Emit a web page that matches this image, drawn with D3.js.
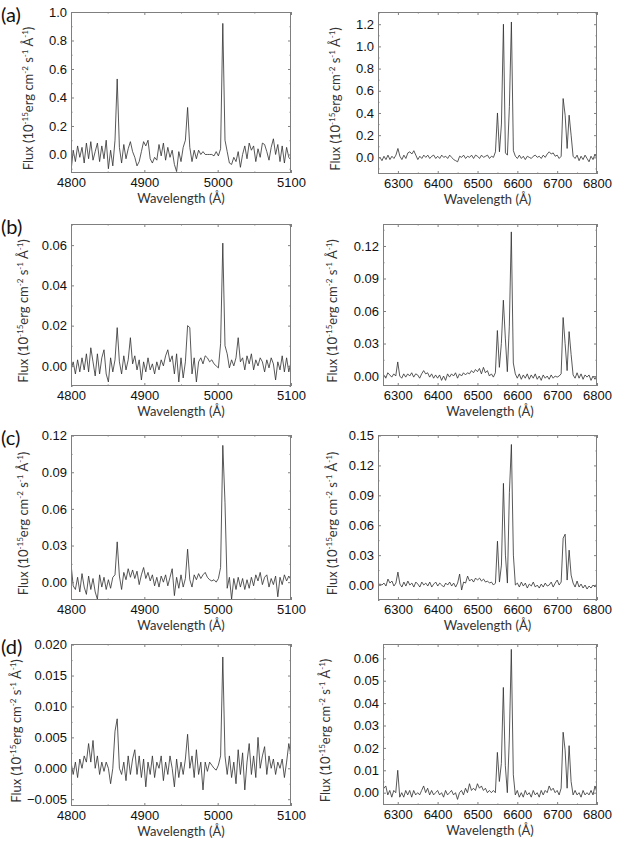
<!DOCTYPE html>
<html lang="en">
<head>
  <meta charset="UTF-8">
  <title>Spectra</title>
  <style>
    body { margin: 0; background: #fff; }
  </style>
</head>
<body>
  <svg id="svg" width="620" height="845"></svg>
  <script src="https://d3js.org/d3.v7.min.js"></script>
  <script>
    // wavelength grids (Angstrom)
    const blueStart = 4800, blueStep = 3
    const redStart = 6250, redStep = 5

    // tick values
    const xTicksBlue = [4800, 4900, 5000, 5100]
    const xTicksRed = [6300, 6400, 6500, 6600, 6700, 6800]
    const yTicksA1 = [0, 0.2, 0.4, 0.6, 0.8, 1.0]
    const yTicksA2 = [0, 0.2, 0.4, 0.6, 0.8, 1.0, 1.2]
    const yTicksB1 = [0, 0.02, 0.04, 0.06]
    const yTicksB2 = [0, 0.03, 0.06, 0.09, 0.12]
    const yTicksC1 = [0, 0.03, 0.06, 0.09, 0.12]
    const yTicksC2 = [0, 0.03, 0.06, 0.09, 0.12, 0.15]
    const yTicksD1 = [-0.005, 0, 0.005, 0.01, 0.015, 0.02]
    const yTicksD2 = [0, 0.01, 0.02, 0.03, 0.04, 0.05, 0.06]

    // flux, 10^-15 erg cm^-2 s^-1 A^-1
    const fluxA1 = [
      -0.12, 0.03, -0.05, 0.06, -0.02, 0.05, -0.06, 0.08, -0.03, 0.09,   // 4800
      -0.04, 0.02, 0.08, -0.05, 0.06, -0.03, 0.10, -0.10, 0.03, -0.08,   // 4830
      0.10, 0.53, 0.05, -0.06, 0.07, -0.03, 0.04, 0.09, 0.02, -0.02,     // 4860
      -0.08, -0.05, 0.02, 0.09, 0.06, 0.10, -0.03, -0.06, -0.02, -0.04,  // 4890
      0.07, -0.01, 0.08, -0.04, 0.05, -0.02, 0.03, -0.07, -0.12, 0.02,   // 4920
      -0.05, 0.05, 0.10, 0.33, 0.05, -0.05, 0.03, -0.03, 0.03, 0.00,     // 4950
      0.02, 0.00, 0.00, 0.00, 0.00, -0.01, 0.02, -0.01, 0.04, 0.92,      // 4980
      0.10, 0.02, -0.06, -0.07, -0.02, -0.05, 0.02, -0.09, 0.00, 0.06,   // 5010
      -0.03, 0.08, 0.03, 0.06, -0.05, 0.04, -0.02, 0.08, 0.07, 0.02,     // 5040
      -0.04, 0.05, 0.11, 0.00, 0.07, -0.05, 0.06, -0.06, 0.05, -0.02,    // 5070
      -0.04
    ]
    const fluxA2 = [
      -0.01, 0.00, -0.03, 0.01, -0.02, 0.02, -0.02, 0.01, -0.01, 0.02,   // 6250
      0.08, 0.01, -0.02, 0.02, -0.01, 0.04, 0.05, 0.03, 0.06, 0.02,      // 6300
      -0.02, 0.01, -0.01, 0.02, 0.00, 0.02, -0.01, 0.01, 0.02, -0.01,    // 6350
      0.01, -0.01, 0.02, 0.00, 0.01, -0.01, 0.02, 0.00, -0.02, -0.03,    // 6400
      -0.04, 0.01, 0.00, 0.02, -0.01, 0.01, 0.00, 0.02, -0.01, 0.02,     // 6450
      0.01, -0.01, 0.02, 0.00, 0.01, 0.02, -0.01, 0.01, 0.00, 0.05,      // 6500
      0.40, 0.05, 0.30, 1.20, 0.04, 0.02, 0.46, 1.22, 0.06, 0.01,        // 6550
      -0.01, 0.02, -0.01, 0.01, -0.02, 0.01, 0.00, -0.01, 0.01, 0.02,    // 6600
      0.00, 0.01, -0.01, 0.02, 0.00, 0.03, 0.05, 0.03, 0.04, 0.01,       // 6650
      0.02, -0.01, 0.01, 0.53, 0.38, 0.08, 0.38, 0.20, 0.01, -0.01,      // 6700
      0.02, -0.03, 0.01, -0.02, 0.02, -0.01, -0.04, 0.01, -0.02, 0.03,   // 6750
      -0.01
    ]
    const fluxB1 = [
      -0.002, 0.002, -0.004, 0.003, -0.003, 0.004, -0.002, 0.006, -0.003, 0.009,
      0.002, -0.005, 0.006, -0.004, 0.004, 0.008, -0.004, -0.008, 0.004, -0.003,
      0.003, 0.019, 0.002, -0.004, 0.005, -0.002, 0.003, 0.014, 0.001, 0.005,
      -0.002, 0.003, -0.007, 0.002, -0.003, 0.004, -0.002, 0.001, -0.004, 0.002,
      -0.002, 0.003, 0.000, 0.005, 0.008, 0.002, 0.005, -0.004, 0.006, -0.008,
      0.004, -0.006, 0.002, 0.020, 0.019, -0.004, 0.004, -0.008, 0.002, 0.004,
      0.001, 0.005, 0.004, 0.002, 0.003, 0.001, 0.000, -0.001, 0.011, 0.061,
      0.010, 0.006, -0.001, 0.003, 0.000, 0.004, 0.014, 0.002, 0.004, -0.002,
      0.005, 0.001, 0.006, -0.002, 0.003, 0.000, 0.004, 0.002, -0.003, 0.003,
      -0.001, 0.004, 0.001, -0.007, 0.002, -0.002, 0.005, -0.003, 0.004, -0.003,
      0.002
    ]
    const fluxB2 = [
      0.000, 0.001, -0.001, 0.001, -0.002, 0.003, 0.001, -0.001, 0.002, 0.000,
      0.013, 0.000, -0.002, 0.002, -0.001, 0.002, 0.000, 0.003, -0.001, 0.002,
      0.001, -0.002, 0.002, 0.005, 0.002, 0.003, -0.001, 0.002, -0.002, 0.001,
      -0.002, 0.001, -0.004, 0.000, -0.004, 0.002, -0.001, 0.002, 0.000, 0.003,
      -0.002, 0.002, 0.000, 0.003, 0.001, 0.003, 0.002, 0.005, 0.003, 0.006,
      0.004, 0.007, 0.002, 0.008, 0.003, 0.005, 0.000, 0.002, -0.001, 0.003,
      0.042, 0.008, 0.030, 0.070, 0.035, 0.004, 0.046, 0.133, 0.012, 0.002,
      -0.002, 0.002, -0.003, 0.001, -0.002, 0.002, -0.003, 0.001, -0.002, 0.002,
      -0.003, 0.000, -0.004, 0.001, -0.002, 0.000, -0.003, 0.001, -0.002, 0.000,
      -0.001, 0.000, 0.002, 0.054, 0.030, 0.005, 0.041, 0.020, 0.001, -0.002,
      0.003, -0.002, 0.002, -0.003, 0.001, -0.001, 0.001, -0.004, 0.000, -0.003,
      0.001
    ]
    const fluxC1 = [
      0.015, -0.003, -0.006, 0.004, -0.008, 0.007, -0.004, -0.010, 0.005, -0.006,
      0.003, -0.008, -0.014, 0.006, -0.004, 0.004, -0.006, 0.002, -0.005, 0.004,
      0.006, 0.033, 0.005, -0.006, 0.008, 0.002, 0.011, 0.004, 0.010, 0.003,
      0.009, -0.002, 0.006, 0.012, 0.003, 0.008, 0.001, 0.006, -0.003, 0.004,
      -0.004, 0.005, 0.000, 0.006, -0.003, 0.004, 0.011, -0.011, 0.004, -0.005,
      0.006, -0.004, 0.003, 0.027, 0.002, -0.004, 0.006, 0.002, 0.007, 0.003,
      0.006, 0.008, 0.004, 0.002, 0.001, 0.002, 0.000, 0.003, 0.012, 0.112,
      0.065, -0.005, 0.004, -0.014, 0.003, -0.006, 0.004, -0.004, 0.003, -0.006,
      0.002, -0.005, 0.004, -0.003, 0.006, 0.001, 0.008, -0.002, 0.004, 0.006,
      -0.004, 0.003, -0.002, 0.005, -0.012, 0.004, -0.002, 0.006, 0.001, 0.005,
      0.002
    ]
    const fluxC2 = [
      0.000, 0.001, 0.000, 0.002, -0.001, 0.006, 0.002, 0.004, -0.001, 0.002,
      0.013, 0.001, -0.002, 0.003, -0.001, 0.004, 0.000, 0.002, -0.002, 0.003,
      0.001, -0.002, 0.003, 0.000, 0.002, -0.001, 0.003, -0.002, 0.001, 0.003,
      -0.001, 0.002, 0.000, -0.002, 0.002, 0.000, 0.003, -0.001, 0.002, -0.002,
      0.002, 0.011, -0.005, 0.003, 0.002, 0.009, 0.004, 0.006, 0.003, 0.007,
      0.005, 0.007, 0.004, 0.006, 0.003, 0.004, 0.002, 0.003, 0.000, 0.002,
      0.044, 0.003, 0.020, 0.102, 0.030, 0.002, 0.093, 0.141, 0.030, 0.000,
      0.002, -0.002, 0.003, -0.001, 0.002, -0.003, 0.001, -0.001, 0.003, -0.002,
      0.000, -0.003, 0.001, -0.002, 0.002, -0.001, 0.000, 0.003, -0.002, 0.002,
      0.005, 0.000, 0.003, 0.047, 0.051, 0.005, 0.035, 0.010, 0.002, -0.002,
      0.004, -0.002, 0.001, -0.003, 0.000, -0.004, -0.001, -0.003, 0.000, -0.002,
      0.002
    ]
    const fluxD1 = [
      0.001, -0.001, 0.001, -0.0015, 0.0015, 0.000, 0.002, 0.001, 0.004, 0.001,
      0.0045, 0.000, 0.002, -0.001, 0.001, -0.0005, 0.001, 0.000, -0.0025, 0.000,
      0.006, 0.008, 0.000, -0.001, 0.001, -0.002, 0.002, -0.001, 0.0015, 0.003,
      -0.001, 0.002, -0.0015, 0.0015, -0.003, 0.001, -0.001, 0.002, -0.0015, 0.001,
      0.000, 0.002, -0.002, 0.001, -0.001, 0.002, 0.000, -0.003, 0.0015, -0.0015,
      0.001, -0.001, 0.0015, 0.0055, 0.000, 0.002, -0.0015, 0.003, -0.001, 0.001,
      -0.0035, 0.001, -0.0005, 0.001, 0.0005, 0.000, -0.0003, 0.0005, 0.002, 0.018,
      0.002, -0.001, 0.002, -0.0015, 0.001, -0.0025, 0.003, -0.001, 0.0025, -0.0035,
      0.001, 0.004, -0.001, 0.002, -0.0015, 0.005, 0.000, 0.002, 0.0035, -0.001,
      0.002, 0.000, 0.0015, -0.001, 0.001, 0.000, 0.0015, -0.0015, 0.001, 0.004,
      0.002
    ]
    const fluxD2 = [
      0.000, 0.001, -0.001, 0.002, 0.003, -0.001, 0.001, -0.002, 0.001, 0.000,
      0.010, -0.002, 0.000, -0.002, 0.001, -0.001, 0.001, -0.002, 0.001, -0.001,
      0.000, -0.001, 0.001, 0.003, 0.000, 0.002, -0.001, 0.001, -0.001, 0.000,
      0.001, -0.001, 0.000, -0.002, 0.001, -0.001, 0.000, 0.001, -0.001, 0.000,
      -0.003, 0.000, 0.001, -0.001, 0.002, 0.000, 0.004, 0.001, 0.002, 0.001,
      0.004, 0.002, 0.003, 0.001, 0.002, 0.000, 0.001, 0.000, 0.001, 0.000,
      0.018, 0.005, 0.013, 0.047, 0.012, 0.000, 0.024, 0.064, 0.008, -0.001,
      0.001, -0.002, 0.000, -0.002, 0.001, -0.001, 0.000, -0.002, 0.001, -0.001,
      0.000, -0.002, 0.001, -0.001, 0.001, 0.000, 0.003, 0.001, 0.002, 0.000,
      0.001, -0.001, 0.002, 0.027, 0.019, 0.002, 0.021, 0.005, -0.001, 0.001,
      -0.001, 0.000, -0.002, 0.001, -0.001, 0.000, -0.001, 0.001, -0.001, 0.003,
      0.000
    ]

    const panels = [
      { tag: '(a)', flux: fluxA1, start: blueStart, step: blueStep, xd: [4800, 5100], yd: [-0.13, 1.0], xt: xTicksBlue, yt: yTicksA1, fmt: '.1f', box: [71, 12, 291, 173], lx: 33 },
      { flux: fluxA2, start: redStart, step: redStep, xd: [6250, 6800], yd: [-0.15, 1.31], xt: xTicksRed, yt: yTicksA2, fmt: '.1f', box: [378, 12, 597, 174], lx: 340 },
      { tag: '(b)', flux: fluxB1, start: blueStart, step: blueStep, xd: [4800, 5100], yd: [-0.01, 0.0705], xt: xTicksBlue, yt: yTicksB1, fmt: '.2f', box: [71, 224, 291, 386], lx: 28 },
      { flux: fluxB2, start: redStart, step: redStep, xd: [6263, 6800], yd: [-0.0092, 0.1403], xt: xTicksRed, yt: yTicksB2, fmt: '.2f', box: [383, 224, 597, 386], lx: 337 },
      { tag: '(c)', flux: fluxC1, start: blueStart, step: blueStep, xd: [4800, 5100], yd: [-0.0146, 0.1205], xt: xTicksBlue, yt: yTicksC1, fmt: '.2f', box: [71, 435, 291, 600], lx: 28 },
      { flux: fluxC2, start: redStart, step: redStep, xd: [6250, 6800], yd: [-0.015, 0.1505], xt: xTicksRed, yt: yTicksC2, fmt: '.2f', box: [378, 435, 597, 600], lx: 337 },
      { tag: '(d)', flux: fluxD1, start: blueStart, step: blueStep, xd: [4800, 5100], yd: [-0.0061, 0.0201], xt: xTicksBlue, yt: yTicksD1, fmt: '.3f', box: [71, 644, 291, 806], lx: 21 },
      { flux: fluxD2, start: redStart, step: redStep, xd: [6263, 6800], yd: [-0.0055, 0.0664], xt: xTicksRed, yt: yTicksD2, fmt: '.2f', box: [383, 644, 597, 805], lx: 330 }
    ]

    const svg = d3.select('#svg').style('background-color', 'white')
    const frameColor = '#7f7f7f'
    const tickFont = '"Liberation Sans", Arial, sans-serif'
    const titleFont = 'Lato, "Open Sans", sans-serif'

    const minorOf = ticks => {
      const s = ticks[1] - ticks[0]
      const out = ticks.map(t => t + s / 2)
      out.unshift(ticks[0] - s / 2)
      return out
    }

    panels.forEach((p, k) => {
      const [x0, y0, x1, y1] = p.box
      const xScale = d3.scaleLinear().domain(p.xd).range([x0, x1])
      const yScale = d3.scaleLinear().domain(p.yd).range([y1, y0])
      const inX = v => v >= p.xd[0] && v <= p.xd[1]
      const inY = v => v >= p.yd[0] && v <= p.yd[1]
      const g = svg.append('g')

      g.append('clipPath').attr('id', 'clip' + k)
        .append('rect')
        .attr('x', x0).attr('y', y0)
        .attr('width', x1 - x0).attr('height', y1 - y0)

      const line = d3.line()
        .x((d, i) => xScale(p.start + i * p.step))
        .y(d => yScale(d))
      g.append('path')
        .datum(p.flux)
        .attr('clip-path', `url(#clip${k})`)
        .attr('fill', 'none')
        .attr('stroke', '#2e2e2e')
        .attr('stroke-width', 0.8)
        .attr('d', line)

      const styleAxis = sel => {
        sel.attr('font-family', tickFont).attr('font-size', 13)
        sel.select('.domain').remove()
        sel.selectAll('line').attr('stroke', frameColor)
        sel.selectAll('text').attr('fill', '#111')
      }
      const xMinor = minorOf(p.xt).filter(inX)
      const yMinor = minorOf(p.yt).filter(inY)

      g.append('g').attr('transform', `translate(0,${y1})`)
        .call(d3.axisBottom(xScale).tickValues(p.xt).tickSize(-3).tickPadding(5).tickFormat(d3.format('d')))
        .call(styleAxis)
      g.append('g').attr('transform', `translate(0,${y1})`)
        .call(d3.axisBottom(xScale).tickValues(xMinor).tickSize(-1.5).tickFormat(''))
        .call(styleAxis)
      g.append('g').attr('transform', `translate(0,${y0})`)
        .call(d3.axisTop(xScale).tickValues(p.xt.filter(inX)).tickSize(-3).tickFormat(''))
        .call(styleAxis)
      g.append('g').attr('transform', `translate(0,${y0})`)
        .call(d3.axisTop(xScale).tickValues(xMinor).tickSize(-1.5).tickFormat(''))
        .call(styleAxis)

      g.append('g').attr('transform', `translate(${x0},0)`)
        .call(d3.axisLeft(yScale).tickValues(p.yt).tickSize(-3).tickPadding(4).tickFormat(d3.format(p.fmt)))
        .call(styleAxis)
      g.append('g').attr('transform', `translate(${x0},0)`)
        .call(d3.axisLeft(yScale).tickValues(yMinor).tickSize(-1.5).tickFormat(''))
        .call(styleAxis)
      g.append('g').attr('transform', `translate(${x1},0)`)
        .call(d3.axisRight(yScale).tickValues(p.yt).tickSize(-3).tickFormat(''))
        .call(styleAxis)
      g.append('g').attr('transform', `translate(${x1},0)`)
        .call(d3.axisRight(yScale).tickValues(yMinor).tickSize(-1.5).tickFormat(''))
        .call(styleAxis)

      g.append('rect')
        .attr('x', x0 + 0.5).attr('y', y0 + 0.5)
        .attr('width', x1 - x0 - 1).attr('height', y1 - y0 - 1)
        .attr('fill', 'none')
        .attr('stroke', frameColor)
        .attr('stroke-width', 1)

      g.append('text')
        .attr('x', (x0 + x1) / 2)
        .attr('y', y1 + 30)
        .attr('text-anchor', 'middle')
        .attr('font-family', titleFont)
        .attr('font-size', 13)
        .attr('fill', '#333')
        .text('Wavelength (Å)')

      const yl = g.append('text')
        .attr('transform', `translate(${p.lx},${(y0 + y1) / 2 + 6}) rotate(-90)`)
        .attr('text-anchor', 'middle')
        .attr('font-family', titleFont)
        .attr('font-size', 13)
        .attr('fill', '#333')
      const parts = [['Flux (10', 0], ['-15', 1], ['erg cm', 0], ['-2', 1], [' s', 0], ['-1', 1], [' Å', 0], ['-1', 1], [')', 0]]
      parts.forEach(([t, sup]) => {
        const ts = yl.append('tspan').text(t)
        if (sup) ts.attr('baseline-shift', 'super').attr('font-size', 8)
      })

      if (p.tag) {
        svg.append('text')
          .attr('x', 1)
          .attr('y', y0 + 10)
          .attr('font-family', titleFont)
          .attr('font-size', 20)
          .attr('fill', '#111')
          .text(p.tag)
      }
    })
  </script>
</body>
</html>
